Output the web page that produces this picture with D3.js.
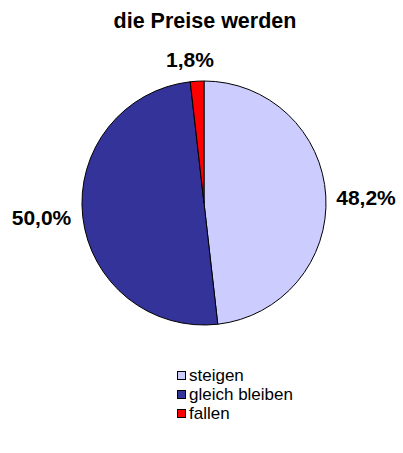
<!DOCTYPE html>
<html><head><meta charset="utf-8">
<script src="https://cdn.jsdelivr.net/npm/d3@7"></script>
<style>body{margin:0;background:#fff}svg{display:block}</style>
</head><body>
<script>
const categories = ["steigen", "gleich bleiben", "fallen"];
const values = [48.2, 50.0, 1.8];
const labels = ["48,2%", "50,0%", "1,8%"];
const colors = ["#CCCCFF", "#333399", "#FF0000"];
const title = "die Preise werden";

const W = 403, H = 453;
const cx = 204, cy = 203, R = 122;
const FONT = "Arial, 'Liberation Sans', sans-serif";
const svg = d3.select("body").append("svg").attr("width", W).attr("height", H);

svg.append("text").attr("x", 205).attr("y", 28).attr("text-anchor", "middle")
  .attr("font-family", FONT).attr("font-weight", "bold")
  .attr("font-size", 21.5).text(title);

const pie = d3.pie().sort(null).value(d => d)(values);
const arc = d3.arc().innerRadius(0).outerRadius(R);
const g = svg.append("g").attr("transform", `translate(${cx},${cy})`);
g.selectAll("path").data(pie).join("path")
  .attr("d", arc).attr("fill", (d, i) => colors[i])
  .attr("stroke", "#000").attr("stroke-width", 1);

const labelPos = [
  {x: 366, y: 205},
  {x: 41.5, y: 225},
  {x: 190, y: 67}
];
svg.selectAll("text.lbl").data(pie).join("text").attr("class", "lbl")
  .attr("x", (d, i) => labelPos[i].x)
  .attr("y", (d, i) => labelPos[i].y)
  .attr("text-anchor", "middle")
  .attr("font-family", FONT).attr("font-weight", "bold")
  .attr("font-size", 21).text((d, i) => labels[i]);

const leg = svg.append("g");
categories.forEach((c, i) => {
  const y = 369 + i * 19;
  leg.append("rect").attr("x", 177.5).attr("y", y + 2.5).attr("width", 8).attr("height", 8)
    .attr("fill", colors[i]).attr("stroke", "#000").attr("stroke-width", 1);
  leg.append("text").attr("x", 189).attr("y", y + 12)
    .attr("font-family", FONT).attr("font-size", 17).text(c);
});
</script>
</body></html>
